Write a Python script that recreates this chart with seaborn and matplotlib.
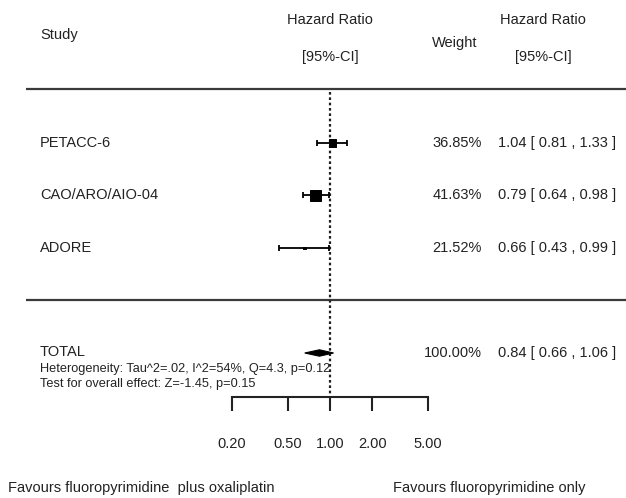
import numpy as np
import matplotlib
matplotlib.use("Agg")
import matplotlib.pyplot as plt
import matplotlib.transforms as mtransforms
import seaborn as sns

# ----- data -----
studies = ["PETACC-6", "CAO/ARO/AIO-04", "ADORE"]
hr = [1.04, 0.79, 0.66]
ci_low = [0.81, 0.64, 0.43]
ci_high = [1.33, 0.98, 0.99]
weights = ["36.85%", "41.63%", "21.52%"]

total_hr = 0.84
total_low = 0.66
total_high = 1.06
total_weight = "100.00%"
heterogeneity = "Heterogeneity: Tau^2=.02, I^2=54%, Q=4.3, p=0.12"
overall_test = "Test for overall effect: Z=-1.45, p=0.15"

ticks = [0.20, 0.50, 1.00, 2.00, 5.00]
tick_labels = ["0.20", "0.50", "1.00", "2.00", "5.00"]

sns.set_theme(style="white")
plt.rcParams["font.family"] = ["Liberation Sans", "DejaVu Sans"]

W, H = 626, 498
fig = plt.figure(figsize=(W / 100, H / 100), dpi=100)
ax = fig.add_axes([0, 0, 1, 1])
ax.set_axis_off()

# layout in pixels: x = 1.0 at 330 px, 140 px per decade; rows 52.5 px apart from 143 px
X1, PPD = 330, 140
Y0, ROW = 143, 52.5
ax.set_xscale("log")
ax.set_xlim(10 ** (-X1 / PPD), 10 ** ((W - X1) / PPD))
ax.set_ylim((H - Y0) / ROW, -Y0 / ROW)


def rowy(py):
    return (py - Y0) / ROW


def figy(py):
    return 1 - py / H


def figx(px):
    return px / W


ink = "#222222"
line_c = "#3a3a3a"
fs = 10.5
fs_small = 9.2

rows = np.arange(len(studies))
total_row = len(studies) + 1

# ----- header -----
fig.text(figx(40), figy(35), "Study", fontsize=fs, color=ink, va="center")
fig.text(figx(330), figy(20), "Hazard Ratio", fontsize=fs, color=ink, ha="center", va="center")
fig.text(figx(330), figy(57), "[95%-CI]", fontsize=fs, color=ink, ha="center", va="center")
fig.text(figx(455), figy(43), "Weight", fontsize=fs, color=ink, ha="center", va="center")
fig.text(figx(543), figy(20), "Hazard Ratio", fontsize=fs, color=ink, ha="center", va="center")
fig.text(figx(543), figy(57), "[95%-CI]", fontsize=fs, color=ink, ha="center", va="center")

# separator rules
trans = mtransforms.blended_transform_factory(ax.transAxes, ax.transData)
for py in (89.5, 300):
    ax.plot([figx(26), 1], [rowy(py)] * 2, color=line_c, lw=1.6, transform=trans,
            solid_capstyle="butt")

# null line
ax.plot([1, 1], [rowy(92), rowy(397)], color=ink, lw=1.6, ls=(0, (1.2, 1.2)))

# ----- studies -----
se = (np.log(ci_high) - np.log(ci_low)) / 3.92
inv_var = 1 / se ** 2
side_pt = inv_var / inv_var.max() * 10.5 * 0.72
ax.errorbar(hr, rows, xerr=[np.subtract(hr, ci_low), np.subtract(ci_high, hr)],
            fmt="none", ecolor="black", elinewidth=1.3, capsize=2.4, capthick=1.3)
sns.scatterplot(x=hr, y=rows, marker="s", s=side_pt ** 2, color="black",
                edgecolor="black", linewidth=0.7, ax=ax, legend=False, zorder=3)

for r, name, w, h, lo, hi in zip(rows, studies, weights, hr, ci_low, ci_high):
    ax.text(figx(40), r, name, transform=trans, fontsize=fs, color=ink, va="center")
    ax.text(figx(482), r, w, transform=trans, fontsize=fs, color=ink, va="center", ha="right")
    ax.text(figx(498), r, f"{h:.2f} [ {lo:.2f} , {hi:.2f} ]", transform=trans,
            fontsize=fs, color=ink, va="center")

# ----- total -----
dh = 3.2 / ROW
ax.fill([total_low, total_hr, total_high, total_hr],
        [total_row, total_row - dh, total_row, total_row + dh], color="black", lw=0.8,
        edgecolor="black", zorder=3)
ax.text(figx(40), total_row - 0.01, "TOTAL", transform=trans, fontsize=fs, color=ink,
        va="center")
ax.text(figx(482), total_row, total_weight, transform=trans, fontsize=fs, color=ink,
        va="center", ha="right")
ax.text(figx(498), total_row, f"{total_hr:.2f} [ {total_low:.2f} , {total_high:.2f} ]",
        transform=trans, fontsize=fs, color=ink, va="center")
fig.text(figx(40), figy(369), heterogeneity, fontsize=fs_small, color=ink, va="center")
fig.text(figx(40), figy(384), overall_test, fontsize=fs_small, color=ink, va="center")

# ----- x axis (line on top, ticks pointing down) -----
ax.plot([ticks[0], ticks[-1]], [rowy(397)] * 2, color=ink, lw=1.5, solid_capstyle="projecting")
ax.vlines(ticks, rowy(397), rowy(411), color=ink, lw=1.5)
for t, lab in zip(ticks, tick_labels):
    ax.text(t, rowy(444), lab, fontsize=fs, color=ink, ha="center", va="center")

fig.text(figx(8), figy(488), "Favours fluoropyrimidine  plus oxaliplatin", fontsize=fs,
         color=ink, va="center")
fig.text(figx(393), figy(488), "Favours fluoropyrimidine only", fontsize=fs, color=ink,
         va="center")

fig.savefig("out.png", dpi=100)
